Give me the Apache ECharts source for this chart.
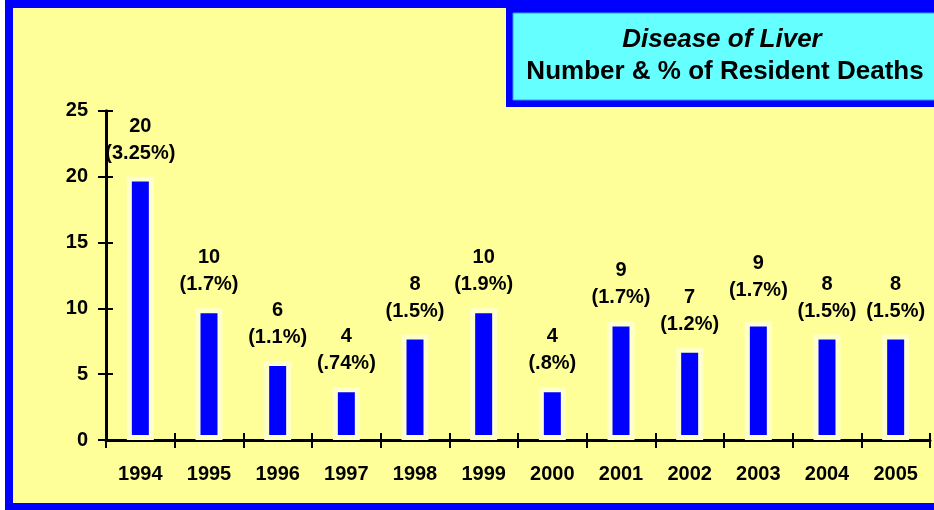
<!DOCTYPE html>
<html>
<head>
<meta charset="utf-8">
<script src="https://cdn.jsdelivr.net/npm/echarts@6/dist/echarts.min.js"></script>
<style>
html,body{margin:0;padding:0;background:#ffffff;}
#chart{width:934px;height:510px;}
</style>
</head>
<body>
<div id="chart"></div>
<script>
var years = ['1994','1995','1996','1997','1998','1999','2000','2001','2002','2003','2004','2005'];
var deaths = [20, 10, 6, 4, 8, 10, 4, 9, 7, 9, 8, 8];
var percents = ['3.25%','1.7%','1.1%','.74%','1.5%','1.9%','.8%','1.7%','1.2%','1.7%','1.5%','1.5%'];
var yTicks = [0, 5, 10, 15, 20, 25];
var titleLine1 = 'Disease of Liver';
var titleLine2 = 'Number & % of Resident Deaths';

var FONT = '"Liberation Sans", Arial, sans-serif';
var chart = echarts.init(document.getElementById('chart'), null, {renderer: 'canvas'});

var barData = deaths.map(function (v, i) {
  var item = {value: v};
  if (i === 9) { item.label = {distance: 17}; }
  return item;
});

var option = {
  animation: false,
  backgroundColor: '#ffffff',
  graphic: [
    {type: 'rect', z: -10, silent: true,
     shape: {x: 9, y: 4, width: 1000, height: 503},
     style: {fill: '#FFFF99', stroke: '#0000FF', lineWidth: 8}},
    {type: 'rect', z: 50, silent: true,
     shape: {x: 506, y: 0, width: 500, height: 107},
     style: {fill: '#0000FF'}},
    {type: 'rect', z: 51, silent: true,
     shape: {x: 513, y: 13, width: 500, height: 87},
     style: {fill: '#66FFFF', stroke: '#3399FF', lineWidth: 1}},
    {type: 'text', z: 52, silent: true,
     style: {text: titleLine1, x: 722, y: 40, align: 'center', verticalAlign: 'middle',
             font: 'italic bold 26px ' + FONT, fill: '#000000'}},
    {type: 'text', z: 52, silent: true,
     style: {text: titleLine2, x: 725, y: 72, align: 'center', verticalAlign: 'middle',
             font: 'bold 26px ' + FONT, fill: '#000000'}}
  ],
  grid: {left: 106, right: 4, top: 110.7, bottom: 70, containLabel: false},
  xAxis: [
    {type: 'category', data: years, position: 'bottom',
     axisLine: {show: true, lineStyle: {color: '#000', width: 3}},
     axisTick: {show: true, length: 8, inside: false, lineStyle: {color: '#000', width: 2}},
     axisLabel: {show: true, color: '#000', fontFamily: FONT, fontWeight: 'bold', fontSize: 20, margin: 24},
     splitLine: {show: false}},
    {type: 'category', data: years, position: 'bottom',
     axisLine: {show: false},
     axisTick: {show: true, length: 7, inside: true, lineStyle: {color: '#000', width: 2}},
     axisLabel: {show: false},
     splitLine: {show: false}}
  ],
  yAxis: [
    {type: 'value', min: 0, max: 25, interval: 5, position: 'left',
     axisLine: {show: true, lineStyle: {color: '#000', width: 3}},
     axisTick: {show: true, length: 8, inside: false, lineStyle: {color: '#000', width: 2}},
     axisLabel: {show: true, color: '#000', fontFamily: FONT, fontWeight: 'bold', fontSize: 20, margin: 18,
                 formatter: function (v) { return yTicks.indexOf(v) >= 0 ? String(v) : ''; }},
     splitLine: {show: false}},
    {type: 'value', min: 0, max: 25, interval: 5, position: 'left',
     axisLine: {show: false},
     axisTick: {show: true, length: 7, inside: true, lineStyle: {color: '#000', width: 2}},
     axisLabel: {show: false},
     splitLine: {show: false}}
  ],
  series: [
    {type: 'bar', xAxisIndex: 0, yAxisIndex: 0, data: barData, barWidth: 27,
     itemStyle: {color: '#0000FF', borderColor: '#FFFFCC', borderWidth: 5},
     label: {show: true, position: 'top', distance: 10, color: '#000',
             fontFamily: FONT, fontWeight: 'bold', fontSize: 20, lineHeight: 27, align: 'center',
             formatter: function (p) { return deaths[p.dataIndex] + '\n(' + percents[p.dataIndex] + ')'; }}}
  ]
};
chart.setOption(option);
</script>
</body>
</html>
